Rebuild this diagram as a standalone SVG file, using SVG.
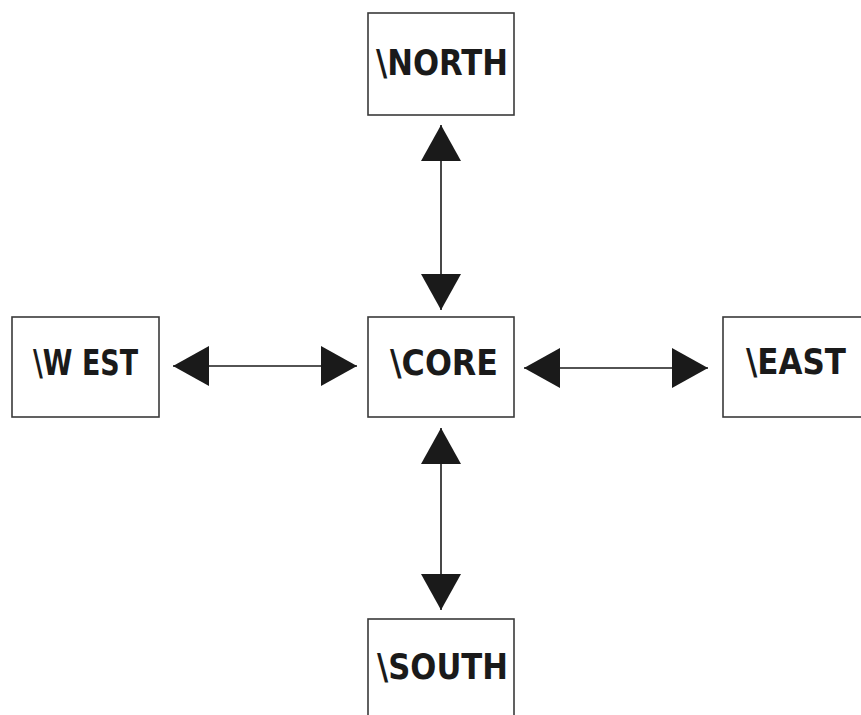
<svg xmlns="http://www.w3.org/2000/svg" width="861" height="715" viewBox="0 0 861 715">
  <style>
    .box { fill: #ffffff; stroke: #3a3a3a; stroke-width: 1.6; }
    .label { font-family: "DejaVu Sans", Verdana, sans-serif; font-weight: bold; font-size: 35px; fill: #1a1a1a; }
    .link { fill: none; stroke: #1a1a1a; stroke-width: 1.6; marker-start: url(#head); marker-end: url(#head); }
  </style>
  <defs>
    <marker id="head" markerUnits="userSpaceOnUse" markerWidth="37" markerHeight="42" refX="36" refY="21" orient="auto-start-reverse" viewBox="0 0 37 42">
      <path d="M0,1 L36,21 L0,41 Z" fill="#1a1a1a"/>
    </marker>
  </defs>
  <rect width="861" height="715" fill="#ffffff"/>

  <g id="connectors">
    <path class="link" d="M441,125 L441,310"/>
    <path class="link" d="M441,428 L441,610"/>
    <path class="link" d="M173,366 L357,366"/>
    <path class="link" d="M524,368 L708,368"/>
  </g>

  <g id="north">
    <rect class="box" x="368" y="13" width="146" height="102"/>
    <text class="label" x="376" y="75" textLength="132" lengthAdjust="spacingAndGlyphs">\NORTH</text>
  </g>
  <g id="core">
    <rect class="box" x="368" y="317" width="146" height="100"/>
    <text class="label" x="390" y="375" textLength="108" lengthAdjust="spacingAndGlyphs">\CORE</text>
  </g>
  <g id="west">
    <rect class="box" x="12" y="317" width="147" height="100"/>
    <text class="label" x="33" y="375" textLength="105" lengthAdjust="spacingAndGlyphs">\W EST</text>
  </g>
  <g id="east">
    <rect class="box" x="723" y="317" width="142" height="100"/>
    <text class="label" x="746" y="374" textLength="100" lengthAdjust="spacingAndGlyphs">\EAST</text>
  </g>
  <g id="south">
    <rect class="box" x="368" y="619" width="146" height="110"/>
    <text class="label" x="377" y="679" textLength="131" lengthAdjust="spacingAndGlyphs">\SOUTH</text>
  </g>
</svg>
